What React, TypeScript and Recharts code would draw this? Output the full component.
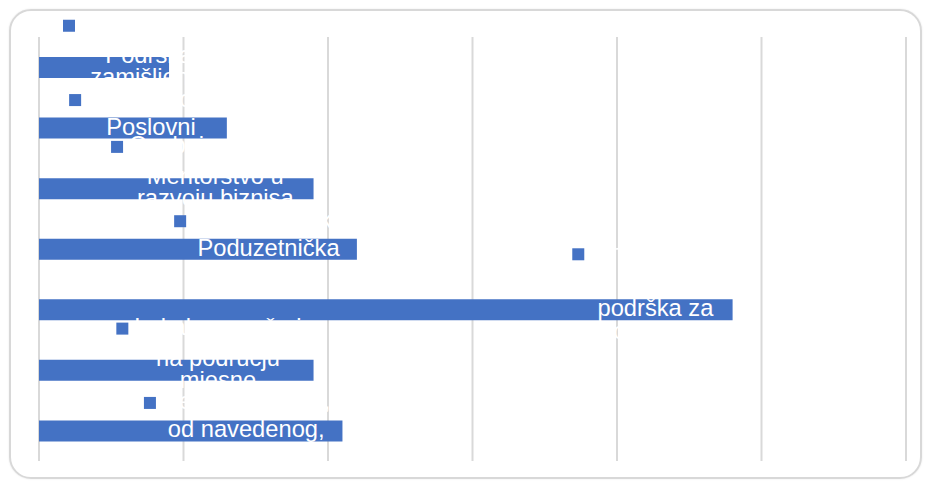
import React from "react";
import { Bar, BarChart, CartesianGrid, LabelList, XAxis, YAxis } from "recharts";

const values = [9, 13, 19, 22, 48, 19, 21];

// data labels: first line sits next to the legend key, the rest is centred on the bar
const labelHeads = [
  "Savjetovanje",
  "Konzultacije",
  "Osobni pristup –",
  "Stručna obuka",
  "Financijska i",
  "Lokalne mreže i",
  "Neki drugi oblik,",
];
const labelBodies = [
  ["Podrška", "zamišljenoj"],
  ["Poslovni"],
  ["Mentorstvo u", "razvoju biznisa"],
  ["Poduzetnička"],
  ["ostala", "podrška za", "pokretanje"],
  ["na području", "mjesne"],
  ["od navedenog,"],
];
const xTicks = [0, 10, 20, 30, 40, 50, 60];

const categories = labelHeads.map((h, i) => [h, ...labelBodies[i]].join(" "));
const data = categories.map((name, i) => ({ name, value: values[i] }));

const BLUE = "#4472C4";
const FONT = "'Liberation Sans', Arial, Helvetica, sans-serif";
const FONT_SIZE = 23.7;
const LINE = 22.5;
const KEY = 12;

let ctx: CanvasRenderingContext2D | null = null;
function textWidth(s: string) {
  if (!ctx) ctx = document.createElement("canvas").getContext("2d");
  if (!ctx) return s.length * 11;
  ctx.font = `${FONT_SIZE}px ${FONT}`;
  return ctx.measureText(s).width;
}

function layout(p: any) {
  const i = p.index;
  const x = Number(p.x), y = Number(p.y), w = Number(p.width), h = Number(p.height);
  const body = labelBodies[i];
  const maxW = Math.max(...[labelHeads[i], ...body].map(textWidth));
  const end = x + w;
  const keyLeft = Math.max(end - 30 - maxW, x + 24);
  const cx = keyLeft + 18 + maxW / 2;
  const cy = y + h / 2;
  const bodyY = body.map((_, k) => cy + (k - (body.length - 1) / 2) * LINE);
  const headY = bodyY[0] - (25.5 + 2.5 * body.length);
  return { i, cx, keyLeft, headY, bodyY };
}

function KeyMark(p: any) {
  const { keyLeft, headY } = layout(p);
  return <rect x={keyLeft} y={headY - KEY / 2} width={KEY} height={KEY} fill={BLUE} />;
}

function LabelText(p: any) {
  const { i, cx, headY, bodyY } = layout(p);
  const rows = [
    { t: labelHeads[i], y: headY },
    ...labelBodies[i].map((t, k) => ({ t, y: bodyY[k] })),
  ];
  return (
    <g>
      {rows.map((r, k) => (
        <text key={k} x={cx} y={r.y + 6.5} textAnchor="middle" fill="#fff" fontSize={FONT_SIZE} fontFamily={FONT}>
          {r.t}
        </text>
      ))}
    </g>
  );
}

export default function App() {
  return (
    <div style={{ position: "absolute", left: 0, top: 0, width: 925, height: 484, background: "#fff", overflow: "hidden" }}>
      <div
        style={{
          position: "absolute",
          left: 9,
          top: 9,
          width: 913,
          height: 470,
          boxSizing: "border-box",
          border: "2px solid #d8d8d8",
          borderRadius: 22,
          boxShadow: "0 0 2px rgba(0,0,0,0.1)",
        }}
      />
      <div style={{ position: "absolute", left: 0, top: 0 }}>
        <BarChart
          layout="vertical"
          width={925}
          height={484}
          data={data}
          margin={{ top: 37, right: 19, bottom: 23, left: 39 }}
        >
          <CartesianGrid horizontal={false} stroke="#d9d9d9" strokeWidth={2} />
          <XAxis type="number" domain={[0, 60]} ticks={xTicks} hide />
          <YAxis type="category" dataKey="name" hide />
          <Bar dataKey="value" fill={BLUE} barSize={21} isAnimationActive={false}>
            <LabelList dataKey="value" content={(p: any) => <KeyMark {...p} />} />
            <LabelList dataKey="value" content={(p: any) => <LabelText {...p} />} />
          </Bar>
        </BarChart>
      </div>
    </div>
  );
}
